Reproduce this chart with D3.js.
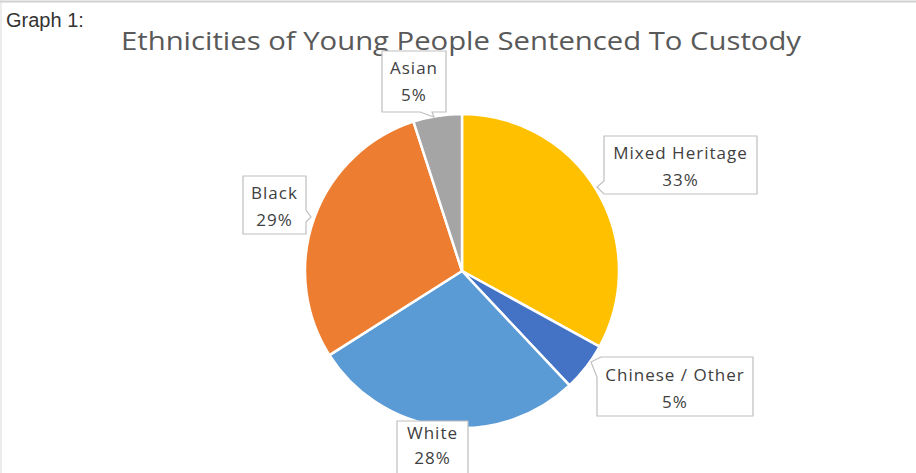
<!DOCTYPE html>
<html>
<head>
<meta charset="utf-8">
<script src="https://cdn.jsdelivr.net/npm/d3@7"></script>
<style>
  html, body { margin: 0; padding: 0; background: #fff; }
  svg { display: block; }
</style>
</head>
<body>
<svg id="chart" width="916" height="473"></svg>
<script>
// Ethnic breakdown, clockwise from 12 o'clock
const categories = ["Mixed Heritage", "Chinese / Other", "White", "Black", "Asian"];
const values = [33, 5, 28, 29, 5];
const colors = ["#FFC000", "#4472C4", "#5B9BD5", "#ED7D31", "#A5A5A5"];

const svg = d3.select("#chart");
const W = 916, H = 473;

// outer frame lines
svg.append("line").attr("x1", 0).attr("x2", W).attr("y1", 1.5).attr("y2", 1.5)
  .attr("stroke", "#d0d0d0").attr("stroke-width", 2);
svg.append("line").attr("x1", 1).attr("x2", 1).attr("y1", 0).attr("y2", H)
  .attr("stroke", "#d9d9d9").attr("stroke-width", 1);

svg.append("text").attr("x", 6).attr("y", 27)
  .attr("font-family", "Liberation Sans, Arial, sans-serif")
  .attr("font-size", 20).attr("fill", "#333")
  .text("Graph 1:");

svg.append("text").attr("x", 461).attr("y", 50)
  .attr("text-anchor", "middle")
  .attr("font-family", "Open Sans, Noto Sans, sans-serif")
  .attr("font-size", 26).attr("fill", "#595959")
  .attr("textLength", 680).attr("lengthAdjust", "spacingAndGlyphs")
  .text("Ethnicities of Young People Sentenced To Custody");

const cx = 462, cy = 271, r = 157;
const pie = d3.pie().sort(null).value(d => d.value);
const arc = d3.arc().innerRadius(0).outerRadius(r);
const data = categories.map((c, i) => ({ name: c, value: values[i], color: colors[i] }));
const arcs = pie(data);

const g = svg.append("g").attr("transform", `translate(${cx},${cy})`);
g.selectAll("path").data(arcs).enter().append("path")
  .attr("d", arc)
  .attr("fill", d => d.data.color)
  .attr("stroke", "#fff").attr("stroke-width", 2.5)
  .attr("stroke-linejoin", "round");

// callout boxes: box rectangle + pointer side, and text baselines inside the box
const callouts = [
  { name: "Mixed Heritage", x: 604, y: 136, w: 153, h: 58, side: "left",  p: [181, 194], tip: [597, 187], t1: 23, t2: 50 },
  { name: "Chinese / Other", x: 597, y: 357, w: 156, h: 59, side: "topleft", tip: [591, 362], t1: 24, t2: 51 },
  { name: "White", x: 397, y: 421, w: 71, h: 60, side: "none", t1: 18, t2: 43 },
  { name: "Black", x: 243, y: 176, w: 63, h: 58, side: "right", p: [210, 222], tip: [311, 217], t1: 23, t2: 50 },
  { name: "Asian", x: 382, y: 51, w: 64, h: 61, side: "bottom", p: [420, 432], tip: [434, 117], t1: 23, t2: 50 }
];

function calloutPath(c) {
  const x0 = c.x, y0 = c.y, x1 = c.x + c.w, y1 = c.y + c.h;
  if (c.side === "left") {
    return `M${x0},${y0}H${x1}V${y1}H${x0}V${c.p[1]}L${c.tip[0]},${c.tip[1]}L${x0},${c.p[0]}Z`;
  }
  if (c.side === "right") {
    return `M${x0},${y0}H${x1}V${c.p[0]}L${c.tip[0]},${c.tip[1]}L${x1},${c.p[1]}V${y1}H${x0}Z`;
  }
  if (c.side === "bottom") {
    return `M${x0},${y0}H${x1}V${y1}H${c.p[1]}L${c.tip[0]},${c.tip[1]}L${c.p[0]},${y1}H${x0}Z`;
  }
  if (c.side === "topleft") {
    return `M${x0 + 4},${y0}H${x1}V${y1}H${x0}V${y0 + 20}L${c.tip[0]},${c.tip[1]}Z`;
  }
  return `M${x0},${y0}H${x1}V${y1}H${x0}Z`;
}

const byName = new Map(data.map(d => [d.name, d]));
const total = d3.sum(values);
const fmt = d3.format(".0%");

callouts.forEach(c => {
  svg.append("path").attr("d", calloutPath(c))
    .attr("fill", "#fff").attr("stroke", "#bfbfbf").attr("stroke-width", 1.2)
    .attr("stroke-linejoin", "miter");
  const mid = c.x + c.w / 2;
  const t = svg.append("text")
    .attr("text-anchor", "middle")
    .attr("font-family", "Open Sans, Noto Sans, sans-serif")
    .attr("font-size", 17).attr("letter-spacing", 1.0).attr("fill", "#404040");
  t.append("tspan").attr("x", mid).attr("y", c.y + c.t1).text(c.name);
  t.append("tspan").attr("x", mid).attr("y", c.y + c.t2)
    .text(fmt(byName.get(c.name).value / total));
});
</script>
</body>
</html>
